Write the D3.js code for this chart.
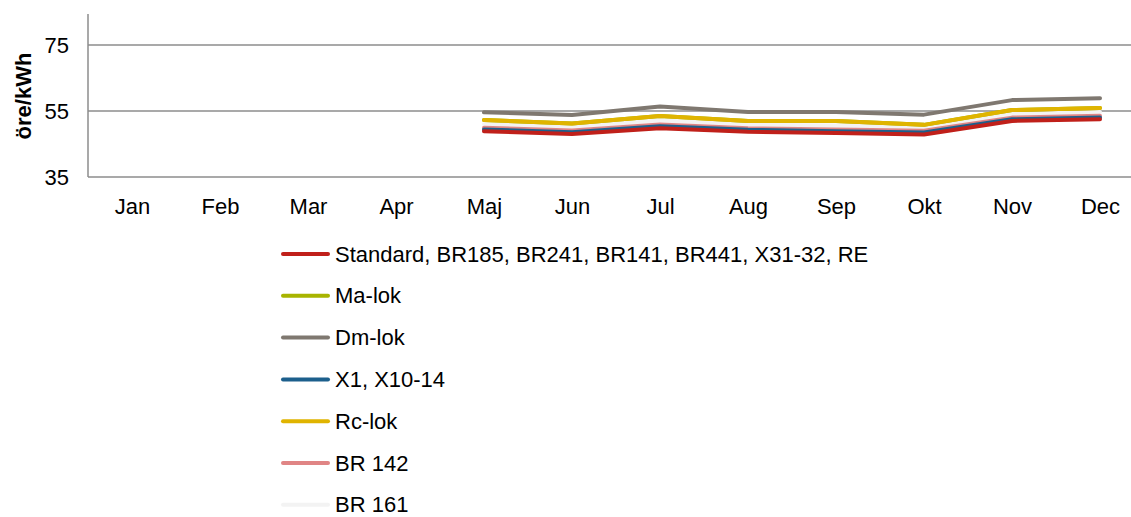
<!DOCTYPE html>
<html><head><meta charset="utf-8">
<script src="https://cdn.jsdelivr.net/npm/d3@7"></script>
<style>body{margin:0;background:#fff}svg{display:block;font-family:"Liberation Sans",Arial,sans-serif}</style>
</head><body><svg id="c" width="1131" height="517"></svg>
<script>
const months = ["Jan","Feb","Mar","Apr","Maj","Jun","Jul","Aug","Sep","Okt","Nov","Dec"];
const yTicks = [35, 55, 75];
const seriesNames = ["Standard, BR185, BR241, BR141, BR441, X31-32, RE","Ma-lok","Dm-lok","X1, X10-14","Rc-lok","BR 142","BR 161"];
const seriesColors = ["#c0201a","#a8b400","#7f7870","#1c5f8c","#e0b400","#e08585","#f3f3f3"];
const standard = [null,null,null,null,48.9,48.0,49.8,48.7,48.3,47.9,52.0,52.5];
const maLok    = [null,null,null,null,52.3,51.2,53.5,52.0,52.0,50.8,55.3,55.9];
const dmLok    = [null,null,null,null,54.6,53.8,56.4,54.7,54.7,53.9,58.3,58.9];
const x1       = [null,null,null,null,49.4,48.6,50.4,49.3,48.9,48.5,52.5,53.0];
const rcLok    = [null,null,null,null,52.3,51.2,53.5,52.0,52.0,50.8,55.3,55.9];
const br142    = [null,null,null,null,49.9,49.1,50.9,49.8,49.4,49.0,53.0,53.6];
const br161    = [null,null,null,null,51.0,50.2,52.1,50.9,50.6,50.0,54.1,54.7];
const seriesValues = [standard, maLok, dmLok, x1, rcLok, br142, br161];
const drawOrder = [6,5,3,0,1,4,2];

const svg = d3.select("#c");
const pL = 88, pR = 1144, pT = 14, pB = 177;
const x = d3.scalePoint().domain(months).range([pL, pR]).padding(0.5);
const y = d3.scaleLinear().domain([35, 84.4]).range([pB, pT]);
const grid = "#8c8c8c";
const FS = 22;

svg.append("g").selectAll("line").data(yTicks.slice(1)).join("line")
  .attr("x1", pL).attr("x2", 1131).attr("y1", d=>y(d)).attr("y2", d=>y(d))
  .attr("stroke", grid).attr("stroke-width", 1.5);
svg.append("line").attr("x1", pL).attr("x2", pL).attr("y1", pT).attr("y2", pB).attr("stroke", grid).attr("stroke-width",1.5);
svg.append("line").attr("x1", pL).attr("x2", 1131).attr("y1", pB).attr("y2", pB).attr("stroke", grid).attr("stroke-width",1.5);

const yAxis = d3.axisLeft(y).tickValues(yTicks).tickSize(0).tickPadding(19);
const ya = svg.append("g").attr("transform", `translate(${pL},0)`).call(yAxis);
ya.select(".domain").remove();
ya.selectAll("text").attr("font-size", FS).attr("fill", "#000").attr("font-family", "Liberation Sans, Arial, sans-serif");

const xAxis = d3.axisBottom(x).tickSize(0).tickPadding(21);
const xa = svg.append("g").attr("transform", `translate(0,${pB})`).call(xAxis);
xa.select(".domain").remove();
xa.selectAll("text").attr("font-size", FS).attr("fill", "#000").attr("font-family", "Liberation Sans, Arial, sans-serif");

svg.append("text").attr("transform", `translate(31,96) rotate(-90)`)
  .attr("text-anchor","middle").attr("font-size",FS).attr("font-weight","bold").text("öre/kWh");

const line = d3.line().defined(d=>d!=null).x((d,i)=>x(months[i])).y(d=>y(d));
drawOrder.forEach(si=>{
  svg.append("path").datum(seriesValues[si]).attr("d", (d)=>line(d))
    .attr("fill","none").attr("stroke", seriesColors[si]).attr("stroke-width",4)
    .attr("stroke-linejoin","round").attr("stroke-linecap","round");
});

const lg = svg.append("g");
seriesNames.forEach((n,i)=>{
  const yy = 254 + i*41.8;
  lg.append("line").attr("x1",283).attr("x2",328).attr("y1",yy).attr("y2",yy)
    .attr("stroke", seriesColors[i]).attr("stroke-width",4).attr("stroke-linecap","round");
  lg.append("text").attr("x",335).attr("y",yy+7.5).attr("font-size",FS).attr("fill","#000").text(n);
});
</script></body></html>
